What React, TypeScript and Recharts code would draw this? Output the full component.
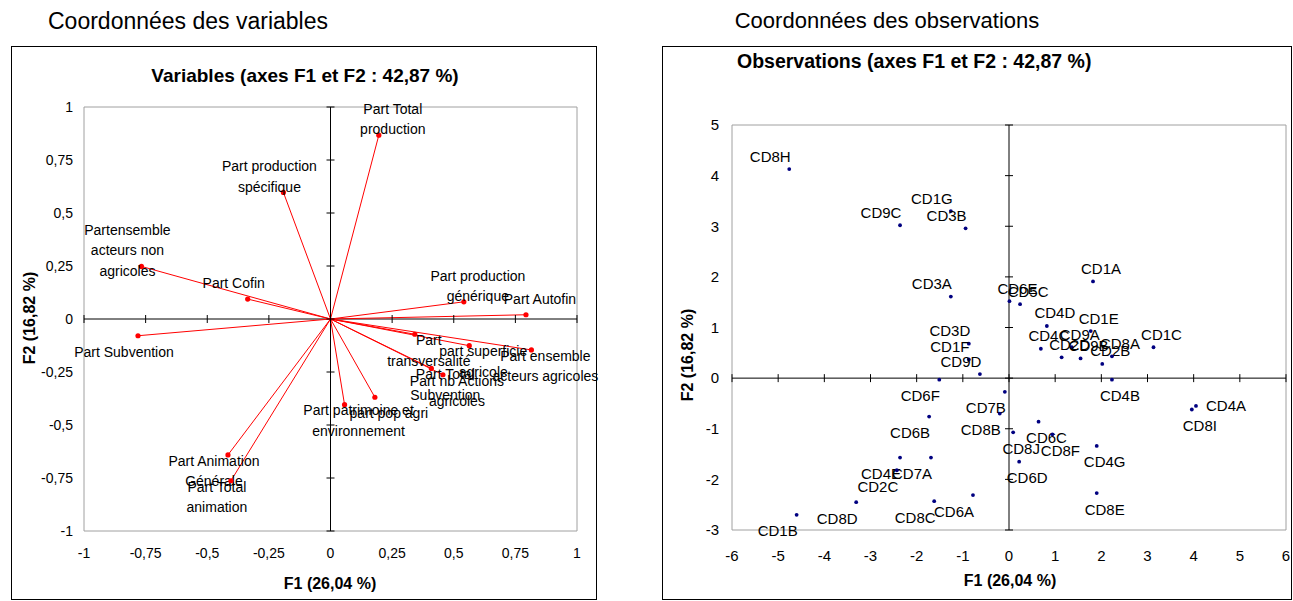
import React from 'react';
import { ScatterChart, Scatter, XAxis, YAxis, ReferenceLine, ReferenceDot, ReferenceArea } from 'recharts';

const FONT = '"Liberation Sans", Arial, Helvetica, sans-serif';

// ---- Variables (correlation circle) ----
const variableNames = [
  'Part Total\nproduction',
  'Part production\nspécifique',
  'Partensemble\nacteurs non\nagricoles',
  'Part Cofin',
  'Part Subvention',
  'Part production\ngénérique',
  'Part Autofin',
  'Part\ntransversalité',
  'part superficie\nagricole',
  'Part ensemble\nacteurs agricoles',
  'Part Total\nSubvention',
  'Part nb Actions\nagricoles',
  'part pop agri',
  'Part patrimoine et\nenvironnement',
  'Part Animation\nGénérale',
  'Part Total\nanimation',
];
const variableF1 = [0.196, -0.191, -0.767, -0.336, -0.781, 0.541, 0.793, 0.342, 0.563, 0.815, 0.409, 0.456, 0.18, 0.057, -0.416, -0.404];
const variableF2 = [0.867, 0.597, 0.248, 0.094, -0.079, 0.081, 0.02, -0.072, -0.126, -0.146, -0.233, -0.263, -0.369, -0.404, -0.641, -0.763];
const variableTicks = [-1, -0.75, -0.5, -0.25, 0, 0.25, 0.5, 0.75, 1];

// ---- Observations ----
const observationNames = [
  'CD8H', 'CD1G', 'CD9C', 'CD3B', 'CD3A', 'CD3D', 'CD1F', 'CD9D',
  'CD6E', 'CD5C', 'CD1A', 'CD4D', 'CD1E', 'CD4C', 'CD9A', 'CD2D', 'CD9B', 'CD2B', 'CD8A', 'CD1C',
  'CD4B', 'CD8I', 'CD4A', 'CD8J', 'CD6C', 'CD8F', 'CD6D', 'CD4G', 'CD8E',
  'CD6F', 'CD7B', 'CD8B', 'CD6B', 'CD4E', 'CD7A', 'CD2C', 'CD8D', 'CD8C', 'CD6A', 'CD1B',
];
const observationF1 = [
  -4.76, -1.26, -2.36, -0.94, -1.26, -0.87, -0.87, -0.63,
  0.01, 0.24, 1.82, 0.82, 1.77, 0.69, 1.36, 1.14, 1.55, 2.02, 2.23, 3.13,
  2.23, 3.96, 4.05, 0.09, 0.64, 0.94, 0.22, 1.9, 1.9,
  -1.51, -0.09, -0.2, -1.73, -2.36, -1.69, -2.43, -3.31, -1.62, -0.78, -4.6,
];
const observationF2 = [
  4.13, 3.3, 3.02, 2.96, 1.61, 0.68, 0.37, 0.08,
  1.52, 1.46, 1.91, 1.03, 0.93, 0.58, 0.61, 0.41, 0.39, 0.28, 0.43, 0.61,
  -0.03, -0.62, -0.55, -1.07, -0.86, -1.11, -1.65, -1.34, -2.27,
  -0.03, -0.27, -0.7, -0.76, -1.57, -1.57, -1.82, -2.45, -2.43, -2.31, -2.7,
];
const obsXTicks = [-6, -5, -4, -3, -2, -1, 0, 1, 2, 3, 4, 5, 6];
const obsYTicks = [-3, -2, -1, 0, 1, 2, 3, 4, 5];

const variableData = variableNames.map((name, i) => ({ name, x: variableF1[i], y: variableF2[i] }));
const observationData = observationNames.map((name, i) => {
  const x = observationF1[i];
  const y = observationF2[i];
  let crowded = false;
  for (let j = 0; j < i; j++) {
    if (Math.abs(observationF1[j] - x) < 0.15 && Math.abs(observationF2[j] - y) < 0.12) crowded = true;
  }
  return { name, x, y, crowded };
});

const fmt = (v: number) => String(v).replace('.', ',');

function VariableShape(props: any) {
  const { cx, cy, payload } = props;
  if (cx == null || cy == null) return null;
  const lines: string[] = payload.name.split('\n');
  const sx = payload.x < 0 ? -1 : 1;
  const sy = payload.y > 0 ? -1 : 1;
  const lh = 20.5;
  const blockCy = cy + sy * 16;
  const firstCy = blockCy - ((lines.length - 1) * lh) / 2;
  const tx = cx + sx * 14;
  return (
    <g>
      <circle cx={cx} cy={cy} r={2.6} fill="#FF0000" />
      <text textAnchor="middle" fontSize={14} fill="#000" fontFamily={FONT}>
        {lines.map((l, i) => (
          <tspan key={i} x={tx} y={firstCy + i * lh + 5}>{l}</tspan>
        ))}
      </text>
    </g>
  );
}

function ObservationShape(props: any) {
  const { cx, cy, payload } = props;
  if (cx == null || cy == null) return null;
  let tx: number;
  let ty: number;
  let anchor: 'middle' | 'start' = 'middle';
  if (payload.crowded) {
    tx = cx + 10;
    ty = cy;
    anchor = 'start';
  } else {
    tx = payload.x < 0 ? cx - 19 : cx + 8;
    ty = payload.y > 0 ? cy - 13 : cy + 16;
  }
  return (
    <g>
      <circle cx={cx} cy={cy} r={1.9} fill="#000080" />
      <text x={tx} y={ty + 5.5} textAnchor={anchor} fontSize={15} fill="#000" fontFamily={FONT}>
        {payload.name}
      </text>
    </g>
  );
}

const hTick = (p: any) => <line x1={p.cx - 4} x2={p.cx + 4} y1={p.cy} y2={p.cy} stroke="#000" strokeWidth={1} />;
const vTick = (p: any) => <line x1={p.cx} x2={p.cx} y1={p.cy - 4} y2={p.cy + 4} stroke="#000" strokeWidth={1} />;

const abs = (left: number, top: number, extra: React.CSSProperties = {}): React.CSSProperties => ({
  position: 'absolute',
  left,
  top,
  transform: 'translate(-50%, -50%)',
  whiteSpace: 'nowrap',
  lineHeight: 1,
  color: '#000',
  ...extra,
});

export default function App() {
  return (
    <div style={{ position: 'absolute', left: 0, top: 0, width: 1293, height: 601, background: '#fff', fontFamily: FONT, overflow: 'hidden' }}>
      <div style={abs(188, 21, { fontSize: 23 })}>Coordonnées des variables</div>
      <div style={abs(887, 21, { fontSize: 22 })}>Coordonnées des observations</div>

      <div style={{ position: 'absolute', left: 11, top: 46, width: 586, height: 554, border: '1px solid #000', boxSizing: 'border-box' }} />
      <div style={{ position: 'absolute', left: 662, top: 46, width: 630, height: 554, border: '1px solid #000', boxSizing: 'border-box' }} />

      {/* Left chart */}
      <div style={{ position: 'absolute', left: 0, top: 0 }}>
        <ScatterChart width={610} height={601} margin={{ top: 107, right: 33, bottom: 40, left: 24 }}>
          <XAxis type="number" dataKey="x" domain={[-1, 1]} ticks={variableTicks} tickFormatter={fmt}
            axisLine={false} tickLine={false} tickSize={0} tickMargin={17} height={30}
            tick={{ fontSize: 14, fill: '#000', fontFamily: FONT }} interval={0} />
          <YAxis type="number" dataKey="y" domain={[-1, 1]} ticks={variableTicks} tickFormatter={fmt}
            axisLine={false} tickLine={false} tickSize={0} tickMargin={11} width={60}
            tick={{ fontSize: 14, fill: '#000', fontFamily: FONT }} interval={0} />
          <ReferenceArea x1={-1} x2={1} y1={-1} y2={1} fill="none" stroke="#A0A0A0" strokeWidth={1} />
          <ReferenceLine x={0} stroke="#000" strokeWidth={1} />
          <ReferenceLine y={0} stroke="#000" strokeWidth={1} />
          {variableTicks.map((t) => (
            <ReferenceDot key={'vx' + t} x={t} y={0} r={0} shape={vTick} />
          ))}
          {variableTicks.map((t) => (
            <ReferenceDot key={'vy' + t} x={0} y={t} r={0} shape={hTick} />
          ))}
          {variableData.map((d) => (
            <ReferenceLine key={'seg' + d.name} segment={[{ x: 0, y: 0 }, { x: d.x, y: d.y }]} stroke="#FF0000" strokeWidth={1} />
          ))}
          <Scatter data={variableData} shape={VariableShape} isAnimationActive={false} />
        </ScatterChart>
      </div>

      {/* Right chart */}
      <div style={{ position: 'absolute', left: 650, top: 0 }}>
        <ScatterChart width={643} height={601} margin={{ top: 125, right: 7, bottom: 41, left: 22 }}>
          <XAxis type="number" dataKey="x" domain={[-6, 6]} ticks={obsXTicks}
            axisLine={false} tickLine={false} tickSize={0} tickMargin={20} height={30}
            tick={{ fontSize: 15, fill: '#000', fontFamily: FONT }} interval={0} />
          <YAxis type="number" dataKey="y" domain={[-3, 5]} ticks={obsYTicks}
            axisLine={false} tickLine={false} tickSize={0} tickMargin={13} width={60}
            tick={{ fontSize: 15, fill: '#000', fontFamily: FONT }} interval={0} />
          <ReferenceArea x1={-6} x2={6} y1={-3} y2={5} fill="none" stroke="#A0A0A0" strokeWidth={1} />
          <ReferenceLine x={0} stroke="#000" strokeWidth={1} />
          <ReferenceLine y={0} stroke="#000" strokeWidth={1} />
          {obsXTicks.map((t) => (
            <ReferenceDot key={'ox' + t} x={t} y={0} r={0} shape={vTick} />
          ))}
          {obsYTicks.map((t) => (
            <ReferenceDot key={'oy' + t} x={0} y={t} r={0} shape={hTick} />
          ))}
          <Scatter data={observationData} shape={ObservationShape} isAnimationActive={false} />
        </ScatterChart>
      </div>

      <div style={abs(305, 75, { fontSize: 19, fontWeight: 'bold' })}>Variables (axes F1 et F2 : 42,87 %)</div>
      <div style={{ ...abs(737, 62, { fontSize: 19.5, fontWeight: 'bold' }), transform: 'translate(0, -50%)' }}>Observations (axes F1 et F2 : 42,87 %)</div>
      <div style={abs(330, 584, { fontSize: 16, fontWeight: 'bold' })}>F1 (26,04 %)</div>
      <div style={abs(1010, 581, { fontSize: 16, fontWeight: 'bold' })}>F1 (26,04 %)</div>
      <div style={{ ...abs(30, 318, { fontSize: 16, fontWeight: 'bold' }), transform: 'translate(-50%, -50%) rotate(-90deg)' }}>F2 (16,82 %)</div>
      <div style={{ ...abs(688, 355, { fontSize: 16, fontWeight: 'bold' }), transform: 'translate(-50%, -50%) rotate(-90deg)' }}>F2 (16,82 %)</div>
    </div>
  );
}
